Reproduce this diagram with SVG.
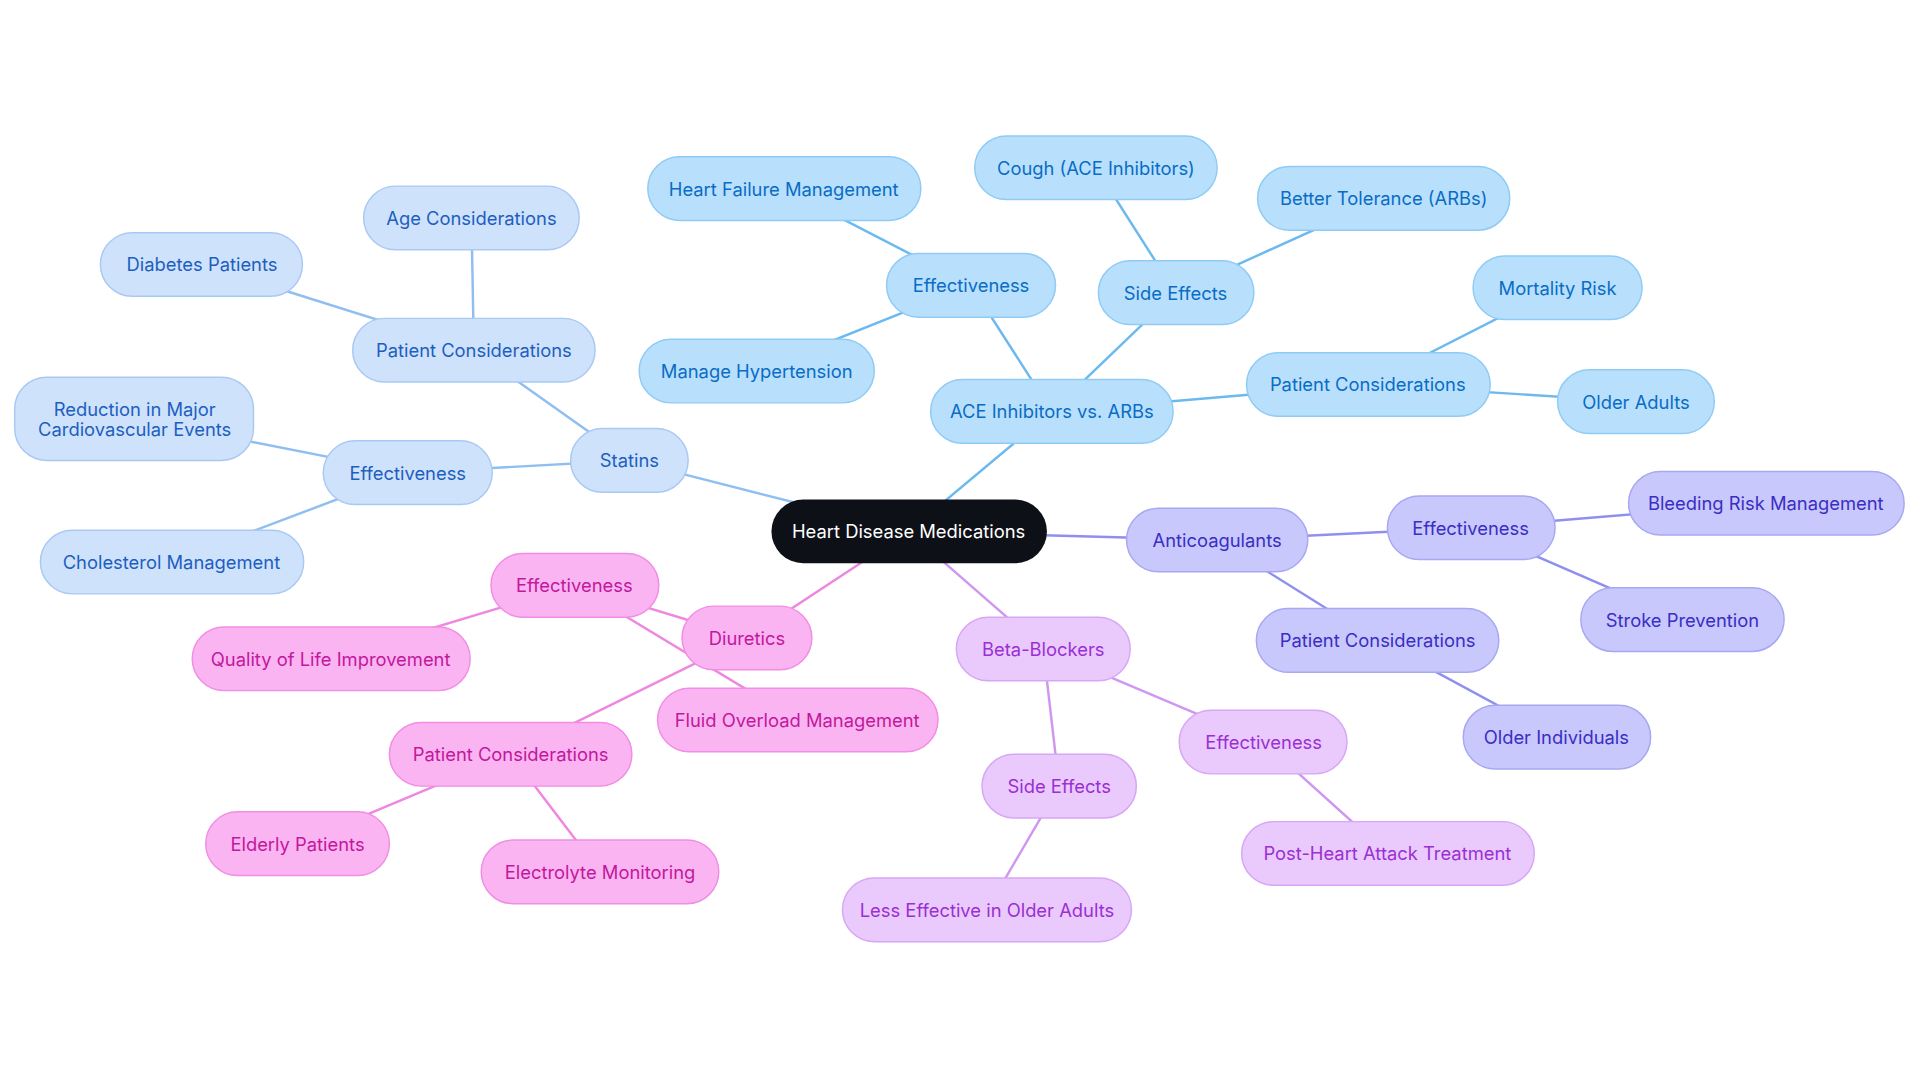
<svg xmlns="http://www.w3.org/2000/svg" width="1920" height="1083" viewBox="0 0 1920 1083">
<style>
text{font-family:Inter,"Noto Sans",sans-serif;font-size:15px;text-anchor:middle;dominant-baseline:central}
rect{stroke-width:1.2}
.s rect{fill:#cfe2fb;stroke:#a9c9f3}.s text{fill:#1d5fc0}
.a rect{fill:#b8e0fc;stroke:#8fcbf5}.a text{fill:#0a6cc4}
.c rect{fill:#c8c8fc;stroke:#a8a8f2}.c text{fill:#3a2ec4}
.b rect{fill:#eac9fc;stroke:#d7a6f5}.b text{fill:#9a30d4}
.d rect{fill:#fbb4f2;stroke:#f18de4}.d text{fill:#c2189c}
#edges line{stroke-width:2}
</style>
<rect width="1920" height="1083" fill="#fff"/>
<g transform="scale(1.2245)">
<g id="edges">
<g stroke="#8fbef0">
<line x1="742" y1="434" x2="514" y2="376"/><line x1="514" y1="376" x2="387" y2="286"/><line x1="387" y1="286" x2="385" y2="178"/><line x1="387" y1="286" x2="165" y2="216"/><line x1="514" y1="376" x2="333" y2="386"/><line x1="333" y1="386" x2="110" y2="342"/><line x1="333" y1="386" x2="140" y2="459"/>
</g>
<g stroke="#6bb9ef">
<line x1="742" y1="434" x2="859" y2="336"/><line x1="859" y1="336" x2="793" y2="233"/><line x1="793" y1="233" x2="640" y2="154"/><line x1="793" y1="233" x2="618" y2="303"/><line x1="859" y1="336" x2="960" y2="239"/><line x1="960" y1="239" x2="895" y2="137"/><line x1="960" y1="239" x2="1130" y2="162"/><line x1="859" y1="336" x2="1117" y2="314"/><line x1="1117" y1="314" x2="1272" y2="235"/><line x1="1117" y1="314" x2="1336" y2="328"/>
</g>
<g stroke="#8f8ff0">
<line x1="742" y1="434" x2="994" y2="441"/><line x1="994" y1="441" x2="1201" y2="431"/><line x1="1201" y1="431" x2="1442" y2="411"/><line x1="1201" y1="431" x2="1374" y2="506"/><line x1="994" y1="441" x2="1125" y2="523"/><line x1="1125" y1="523" x2="1271" y2="602"/>
</g>
<g stroke="#cf96f2">
<line x1="742" y1="434" x2="852" y2="530"/><line x1="852" y1="530" x2="1032" y2="606"/><line x1="1032" y1="606" x2="1133" y2="697"/><line x1="852" y1="530" x2="865" y2="642"/><line x1="865" y1="642" x2="806" y2="743"/>
</g>
<g stroke="#ee88df">
<line x1="742" y1="434" x2="610" y2="521"/><line x1="610" y1="521" x2="469" y2="478"/><line x1="469" y1="478" x2="270" y2="538"/><line x1="469" y1="478" x2="651" y2="588"/><line x1="610" y1="521" x2="417" y2="616"/><line x1="417" y1="616" x2="243" y2="689"/><line x1="417" y1="616" x2="490" y2="712"/>
</g>
</g>
<g id="root"><rect x="630" y="408" width="225" height="52" rx="26" fill="#0d1117"/><text x="742" y="434" fill="#fff">Heart Disease Medications</text></g>
<g class="s">
<g id="statins"><rect x="466" y="350" width="96" height="52" rx="26"/><text x="514" y="376">Statins</text></g>
<g id="s-pc"><rect x="288" y="260" width="198" height="52" rx="26"/><text x="387" y="286">Patient Considerations</text></g>
<g id="s-age"><rect x="297" y="152" width="176" height="52" rx="26"/><text x="385" y="178">Age Considerations</text></g>
<g id="s-dia"><rect x="82" y="190" width="165" height="52" rx="26"/><text x="165" y="216">Diabetes Patients</text></g>
<g id="s-eff"><rect x="264" y="360" width="138" height="52" rx="26"/><text x="333" y="386">Effectiveness</text></g>
<g id="s-red"><rect x="12" y="308" width="195" height="68" rx="26"/><text x="110" y="334">Reduction in Major</text><text x="110" y="350">Cardiovascular Events</text></g>
<g id="s-chol"><rect x="33" y="433" width="215" height="52" rx="26"/><text x="140" y="459">Cholesterol Management</text></g>
</g>
<g class="a">
<g id="ace"><rect x="760" y="310" width="198" height="52" rx="26"/><text x="859" y="336">ACE Inhibitors vs. ARBs</text></g>
<g id="a-eff"><rect x="724" y="207" width="138" height="52" rx="26"/><text x="793" y="233">Effectiveness</text></g>
<g id="a-hf"><rect x="529" y="128" width="223" height="52" rx="26"/><text x="640" y="154">Heart Failure Management</text></g>
<g id="a-mh"><rect x="522" y="277" width="192" height="52" rx="26"/><text x="618" y="303">Manage Hypertension</text></g>
<g id="a-se"><rect x="897" y="213" width="127" height="52" rx="26"/><text x="960" y="239">Side Effects</text></g>
<g id="a-cough"><rect x="796" y="111" width="198" height="52" rx="26"/><text x="895" y="137">Cough (ACE Inhibitors)</text></g>
<g id="a-bt"><rect x="1027" y="136" width="206" height="52" rx="26"/><text x="1130" y="162">Better Tolerance (ARBs)</text></g>
<g id="a-pc"><rect x="1018" y="288" width="199" height="52" rx="26"/><text x="1117" y="314">Patient Considerations</text></g>
<g id="a-mr"><rect x="1203" y="209" width="138" height="52" rx="26"/><text x="1272" y="235">Mortality Risk</text></g>
<g id="a-oa"><rect x="1272" y="302" width="128" height="52" rx="26"/><text x="1336" y="328">Older Adults</text></g>
</g>
<g class="c">
<g id="anti"><rect x="920" y="415" width="148" height="52" rx="26"/><text x="994" y="441">Anticoagulants</text></g>
<g id="c-eff"><rect x="1133" y="405" width="137" height="52" rx="26"/><text x="1201" y="431">Effectiveness</text></g>
<g id="c-brm"><rect x="1330" y="385" width="225" height="52" rx="26"/><text x="1442" y="411">Bleeding Risk Management</text></g>
<g id="c-sp"><rect x="1291" y="480" width="166" height="52" rx="26"/><text x="1374" y="506">Stroke Prevention</text></g>
<g id="c-pc"><rect x="1026" y="497" width="198" height="52" rx="26"/><text x="1125" y="523">Patient Considerations</text></g>
<g id="c-oi"><rect x="1195" y="576" width="153" height="52" rx="26"/><text x="1271" y="602">Older Individuals</text></g>
</g>
<g class="b">
<g id="beta"><rect x="781" y="504" width="142" height="52" rx="26"/><text x="852" y="530">Beta-Blockers</text></g>
<g id="b-eff"><rect x="963" y="580" width="137" height="52" rx="26"/><text x="1032" y="606">Effectiveness</text></g>
<g id="b-post"><rect x="1014" y="671" width="239" height="52" rx="26"/><text x="1133" y="697">Post-Heart Attack Treatment</text></g>
<g id="b-se"><rect x="802" y="616" width="126" height="52" rx="26"/><text x="865" y="642">Side Effects</text></g>
<g id="b-less"><rect x="688" y="717" width="236" height="52" rx="26"/><text x="806" y="743">Less Effective in Older Adults</text></g>
</g>
<g class="d">
<g id="diur"><rect x="557" y="495" width="106" height="52" rx="26"/><text x="610" y="521">Diuretics</text></g>
<g id="d-eff"><rect x="401" y="452" width="137" height="52" rx="26"/><text x="469" y="478">Effectiveness</text></g>
<g id="d-qol"><rect x="157" y="512" width="227" height="52" rx="26"/><text x="270" y="538">Quality of Life Improvement</text></g>
<g id="d-fo"><rect x="537" y="562" width="229" height="52" rx="26"/><text x="651" y="588">Fluid Overload Management</text></g>
<g id="d-pc"><rect x="318" y="590" width="198" height="52" rx="26"/><text x="417" y="616">Patient Considerations</text></g>
<g id="d-ep"><rect x="168" y="663" width="150" height="52" rx="26"/><text x="243" y="689">Elderly Patients</text></g>
<g id="d-em"><rect x="393" y="686" width="194" height="52" rx="26"/><text x="490" y="712">Electrolyte Monitoring</text></g>
</g>
</g>
</svg>
